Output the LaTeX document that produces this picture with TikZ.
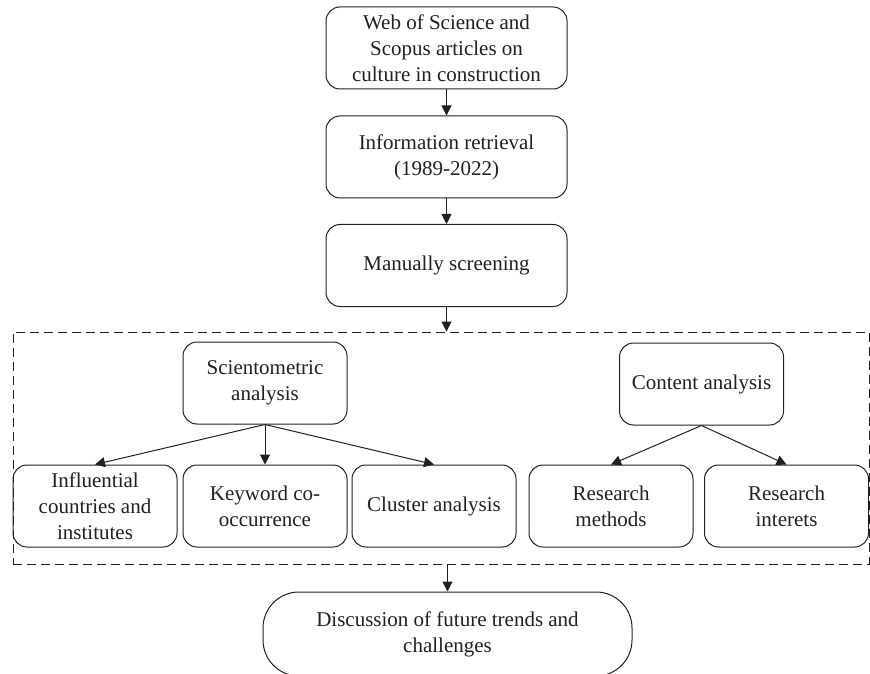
\documentclass[tikz,border=0pt]{standalone}
\usepackage{fontspec}
\setmainfont{Liberation Serif}
\usetikzlibrary{arrows.meta,positioning}
\definecolor{ink}{RGB}{35,31,32}
\tikzset{
	box/.style={draw=ink,text=ink,rounded corners=7pt,align=center,line width=0.5pt,
		font=\fontsize{10.5}{13}\selectfont,minimum width=82pt,minimum height=41pt},
	topbox/.style={box,minimum width=120.5pt},
	arr/.style={draw=ink,line width=0.5pt,-{Triangle[length=5pt,width=5pt]}}
}
\begin{document}
\begin{tikzpicture}[x=0.5pt,y=-0.5pt]
	\useasboundingbox (0,0) rectangle (870,673);
	% main chain
	\node[topbox] (W) at (446.5,48) {Web of Science and\\Scopus articles on\\culture in construction};
	\node[topbox] (R) at (446.5,157) {Information retrieval\\(1989-2022)};
	\node[topbox] (M) at (446.5,265.5) {Manually screening};
	\draw[arr] (W) -- (R);
	\draw[arr] (R) -- (M);

	% dashed frame
	\node[draw=ink,dash pattern=on 4.5pt off 2.5pt,line width=0.5pt,minimum width=428pt,minimum height=116pt,inner sep=0pt] (D) at (441,448) {};
	\draw[arr] (M.south) -- (M.south|-D.north);

	\node[box] (S) at (265,383) {Scientometric\\analysis};
	\node[box] (A) at (701.5,384) {Content analysis};

	\foreach \x/\t [count=\n] in
		{95/{Influential\\countries and\\institutes},265/{Keyword co-\\occurrence},434/{Cluster analysis},611/{Research\\methods},786.5/{Research\\interets}}
			\node[box] (C\n) at (\x,506) {\t};

	\foreach \n in {1,2,3}
		\draw[arr] (S.south) -- (C\n.north);
	\foreach \n in {4,5}
		\draw[arr] (A.south) -- (C\n.north);

	\node[box,rounded corners=18pt,minimum width=184.5pt,minimum height=42pt] (F) at (447.5,634) {Discussion of future trends and\\challenges};
	\draw[arr] (F.north|-D.south) -- (F.north);
\end{tikzpicture}
\end{document}
